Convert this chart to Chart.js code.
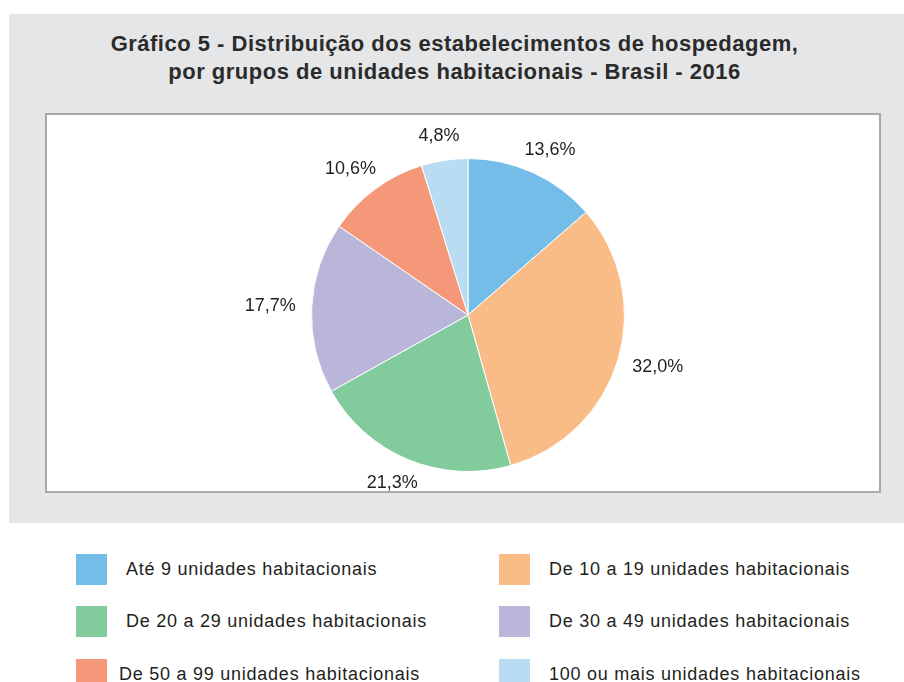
<!DOCTYPE html>
<html>
<head>
<meta charset="utf-8">
<script src="https://cdn.jsdelivr.net/npm/chart.js@4/dist/chart.umd.min.js"></script>
<style>
  body { margin: 0; background: #fff; width: 904px; height: 682px; position: relative; overflow: hidden;
         font-family: "Liberation Sans", Arial, sans-serif; color: #231f20; }
  #painel { position: absolute; left: 9px; top: 14px; width: 895px; height: 509px; background: #e5e6e8; }
  #titulo { position: absolute; left: 7px; top: 30px; width: 895px; text-align: center;
            font-weight: bold; font-size: 22px; line-height: 28px; letter-spacing: 0.5px; color: #2b2b2b; }
  #caixa { position: absolute; left: 45px; top: 113px; width: 836px; height: 380px; box-sizing: border-box;
           border: 2px solid #a9a9ab; background: #fff; }
  #legenda .item { position: absolute; height: 31px; display: flex; align-items: flex-start; }
  #legenda .cor { width: 31px; height: 31px; }
  #legenda .txt { font-size: 18px; line-height: 31px; letter-spacing: 0.75px; white-space: nowrap; margin-left: 19px; }
</style>
</head>
<body>
<div id="painel"></div>
<div id="titulo">Gráfico 5 - Distribuição dos estabelecimentos de hospedagem,<br>por grupos de unidades habitacionais - Brasil - 2016</div>
<div id="caixa"><canvas id="grafico" width="832" height="376"></canvas></div>
<div id="legenda"></div>
<script>
'use strict';

// categorias e valores (%)
const categorias = [
  'Até 9 unidades habitacionais',
  'De 10 a 19 unidades habitacionais',
  'De 20 a 29 unidades habitacionais',
  'De 30 a 49 unidades habitacionais',
  'De 50 a 99 unidades habitacionais',
  '100 ou mais unidades habitacionais'
];
const percentuais = [13.6, 32.0, 21.3, 17.7, 10.6, 4.8];
const cores = ['#74bde8', '#f9bc86', '#82cb9c', '#bab6da', '#f5987a', '#badcf3'];

// legenda em duas colunas
const legenda = document.getElementById('legenda');
const colX = [76, 499];
const linhaY = [554, 606, 659];
categorias.forEach(function (nome, i) {
  const item = document.createElement('div');
  item.className = 'item';
  item.style.left = colX[i % 2] + 'px';
  item.style.top = linhaY[Math.floor(i / 2)] + 'px';
  item.innerHTML = '<div class="cor" style="background:' + cores[i] + '"></div>' +
    '<span class="txt"' + (i === 4 ? ' style="margin-left:12px"' : '') + '>' + nome + '</span>';
  legenda.appendChild(item);
});

// rótulos de porcentagem fora das fatias
const rotulos = {
  id: 'rotulos',
  afterDatasetsDraw(chart) {
    const ctx = chart.ctx;
    const meta = chart.getDatasetMeta(0);
    ctx.save();
    ctx.font = '18px "Liberation Sans", Arial, sans-serif';
    ctx.fillStyle = '#231f20';
    ctx.textAlign = 'center';
    ctx.textBaseline = 'middle';
    meta.data.forEach(function (arc, i) {
      const p = arc.getProps(['x', 'y', 'startAngle', 'endAngle', 'outerRadius'], true);
      const meio = (p.startAngle + p.endAngle) / 2;
      const txt = percentuais[i].toFixed(1).replace('.', ',') + '%';
      const w = ctx.measureText(txt).width;
      const r = p.outerRadius + 16;
      const ax = p.x + Math.cos(meio) * r;
      const ay = p.y + Math.sin(meio) * r;
      ctx.fillText(txt, ax + Math.cos(meio) * w / 2, ay + Math.sin(meio) * 9);
    });
    ctx.restore();
  }
};

new Chart(document.getElementById('grafico'), {
  type: 'pie',
  data: {
    labels: categorias,
    datasets: [{
      data: percentuais,
      backgroundColor: cores,
      borderColor: '#ffffff',
      borderWidth: 1
    }]
  },
  options: {
    responsive: false,
    animation: false,
    layout: { padding: { left: 264, right: 254, top: 43, bottom: 19 } },
    plugins: { legend: { display: false }, tooltip: { enabled: false } }
  },
  plugins: [rotulos]
});
</script>
</body>
</html>
